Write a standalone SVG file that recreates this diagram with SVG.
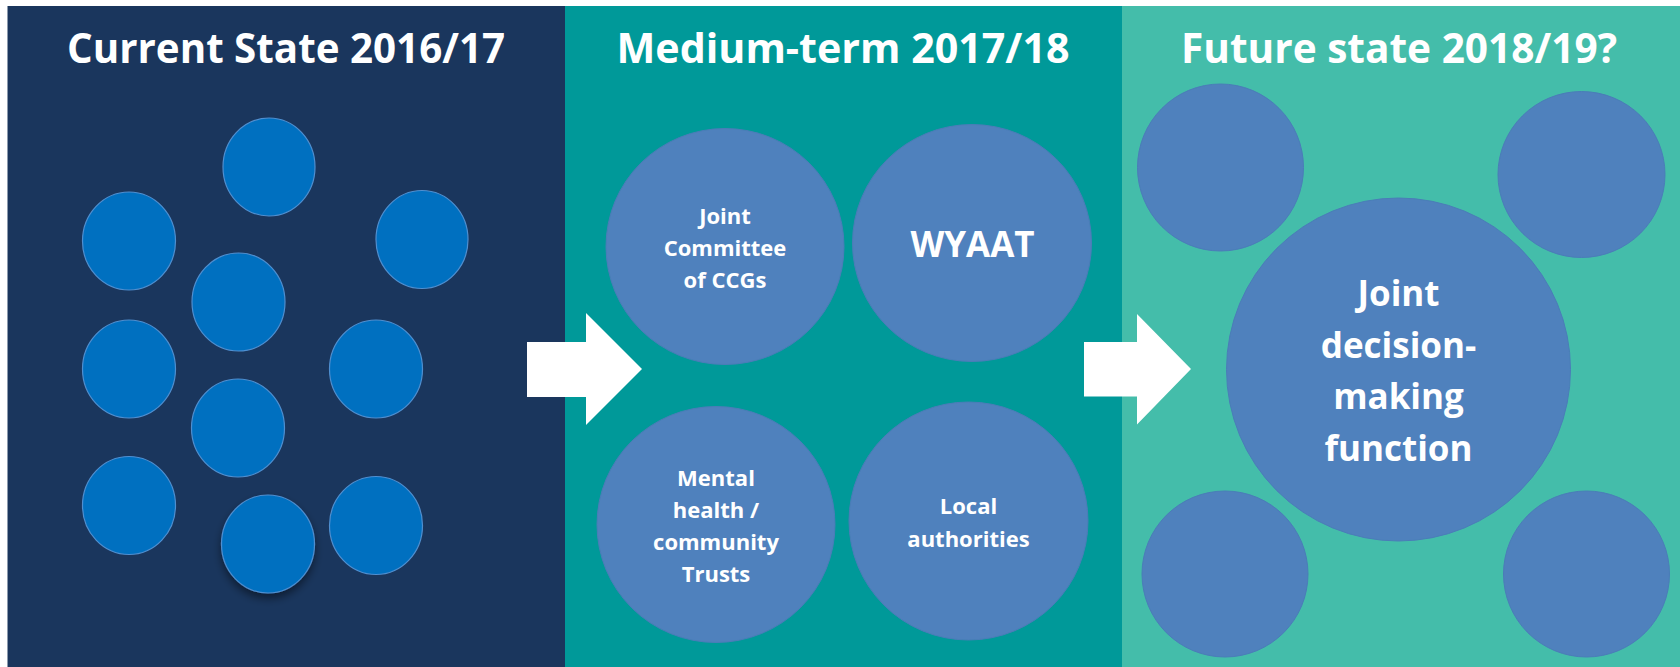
<svg xmlns="http://www.w3.org/2000/svg" width="1680" height="667" viewBox="0 0 1680 667">
  <defs>
    <filter id="shadow" x="-30%" y="-30%" width="160%" height="170%">
      <feDropShadow dx="0" dy="5" stdDeviation="4" flood-color="#000000" flood-opacity="0.45"/>
    </filter>
    <style>
      .title { font-family: "Open Sans", "Liberation Sans", sans-serif; font-weight: bold; font-size: 41px; fill: #ffffff; text-anchor: middle; }
      .lbl { font-family: "Open Sans", "Liberation Sans", sans-serif; font-weight: bold; font-size: 22px; fill: #ffffff; text-anchor: middle; }
      .big { font-family: "Open Sans", "Liberation Sans", sans-serif; font-weight: bold; font-size: 35px; fill: #ffffff; text-anchor: middle; }
      .c1 { fill: #0070C0; stroke: #4F8FD0; stroke-width: 1.2; }
      .c2 { fill: #4F81BD; stroke: #4A7DB8; stroke-width: 1; }
      .arrow { fill: #ffffff; }
    </style>
  </defs>
  <rect x="0" y="0" width="1680" height="667" fill="#ffffff"/>

  <g id="panel-current">
    <rect x="7.5" y="6" width="558" height="661" fill="#1A365D"/>
    <text class="title" x="286" y="63" textLength="438" lengthAdjust="spacingAndGlyphs">Current State 2016/17</text>
    <ellipse class="c1" cx="269" cy="167" rx="46" ry="49"/>
    <ellipse class="c1" cx="129" cy="241" rx="46.5" ry="49"/>
    <ellipse class="c1" cx="422" cy="239.5" rx="46" ry="49"/>
    <ellipse class="c1" cx="238.5" cy="302" rx="46.5" ry="49"/>
    <ellipse class="c1" cx="129" cy="369" rx="46.5" ry="49"/>
    <ellipse class="c1" cx="376" cy="369" rx="46.5" ry="49"/>
    <ellipse class="c1" cx="238" cy="428" rx="46.5" ry="49"/>
    <ellipse class="c1" cx="129" cy="505.5" rx="46.5" ry="49"/>
    <ellipse class="c1" cx="268" cy="544" rx="46.5" ry="49" filter="url(#shadow)"/>
    <ellipse class="c1" cx="376" cy="525.5" rx="46.5" ry="49"/>
  </g>

  <g id="panel-medium">
    <rect x="565" y="6" width="557" height="661" fill="#009999"/>
    <text class="title" x="843" y="63" textLength="453" lengthAdjust="spacingAndGlyphs">Medium-term 2017/18</text>
    <g id="node-joint-committee">
      <ellipse class="c2" cx="725" cy="246.5" rx="119" ry="118"/>
      <text class="lbl" x="725" y="224">Joint</text>
      <text class="lbl" x="725" y="256">Committee</text>
      <text class="lbl" x="725" y="287.5">of CCGs</text>
    </g>
    <g id="node-wyaat">
      <ellipse class="c2" cx="972" cy="243" rx="119.5" ry="118.5"/>
      <text class="big" x="972.5" y="256.5">WYAAT</text>
    </g>
    <g id="node-mental-health">
      <ellipse class="c2" cx="716" cy="524.5" rx="119" ry="118"/>
      <text class="lbl" x="716" y="486">Mental</text>
      <text class="lbl" x="716" y="518">health /</text>
      <text class="lbl" x="716" y="550">community</text>
      <text class="lbl" x="716" y="581.5">Trusts</text>
    </g>
    <g id="node-local-authorities">
      <ellipse class="c2" cx="968.5" cy="521" rx="119.5" ry="119"/>
      <text class="lbl" x="968.5" y="514">Local</text>
      <text class="lbl" x="968.5" y="546.5">authorities</text>
    </g>
  </g>

  <g id="panel-future">
    <rect x="1122" y="6" width="558" height="661" fill="#44BDAA"/>
    <text class="title" x="1399" y="63" textLength="436" lengthAdjust="spacingAndGlyphs">Future state 2018/19?</text>
    <ellipse class="c2" cx="1220.5" cy="167.5" rx="83" ry="83.5"/>
    <ellipse class="c2" cx="1581.5" cy="174.5" rx="83.5" ry="83"/>
    <ellipse class="c2" cx="1225" cy="574" rx="83" ry="83"/>
    <ellipse class="c2" cx="1586.5" cy="574" rx="83" ry="83"/>
    <g id="node-joint-decision">
      <ellipse class="c2" cx="1398.5" cy="369.5" rx="172" ry="171.5"/>
      <text class="big" x="1398.5" y="306">Joint</text>
      <text class="big" x="1398.5" y="357.5">decision-</text>
      <text class="big" x="1398.5" y="409">making</text>
      <text class="big" x="1398.5" y="460.5">function</text>
    </g>
  </g>

  <g id="connectors">
    <polygon class="arrow" points="527,342 586,342 586,313 642,369 586,425 586,397 527,397"/>
    <polygon class="arrow" points="1084,342 1137,342 1137,314 1191,369 1137,424.5 1137,396.5 1084,396.5"/>
  </g>
</svg>
